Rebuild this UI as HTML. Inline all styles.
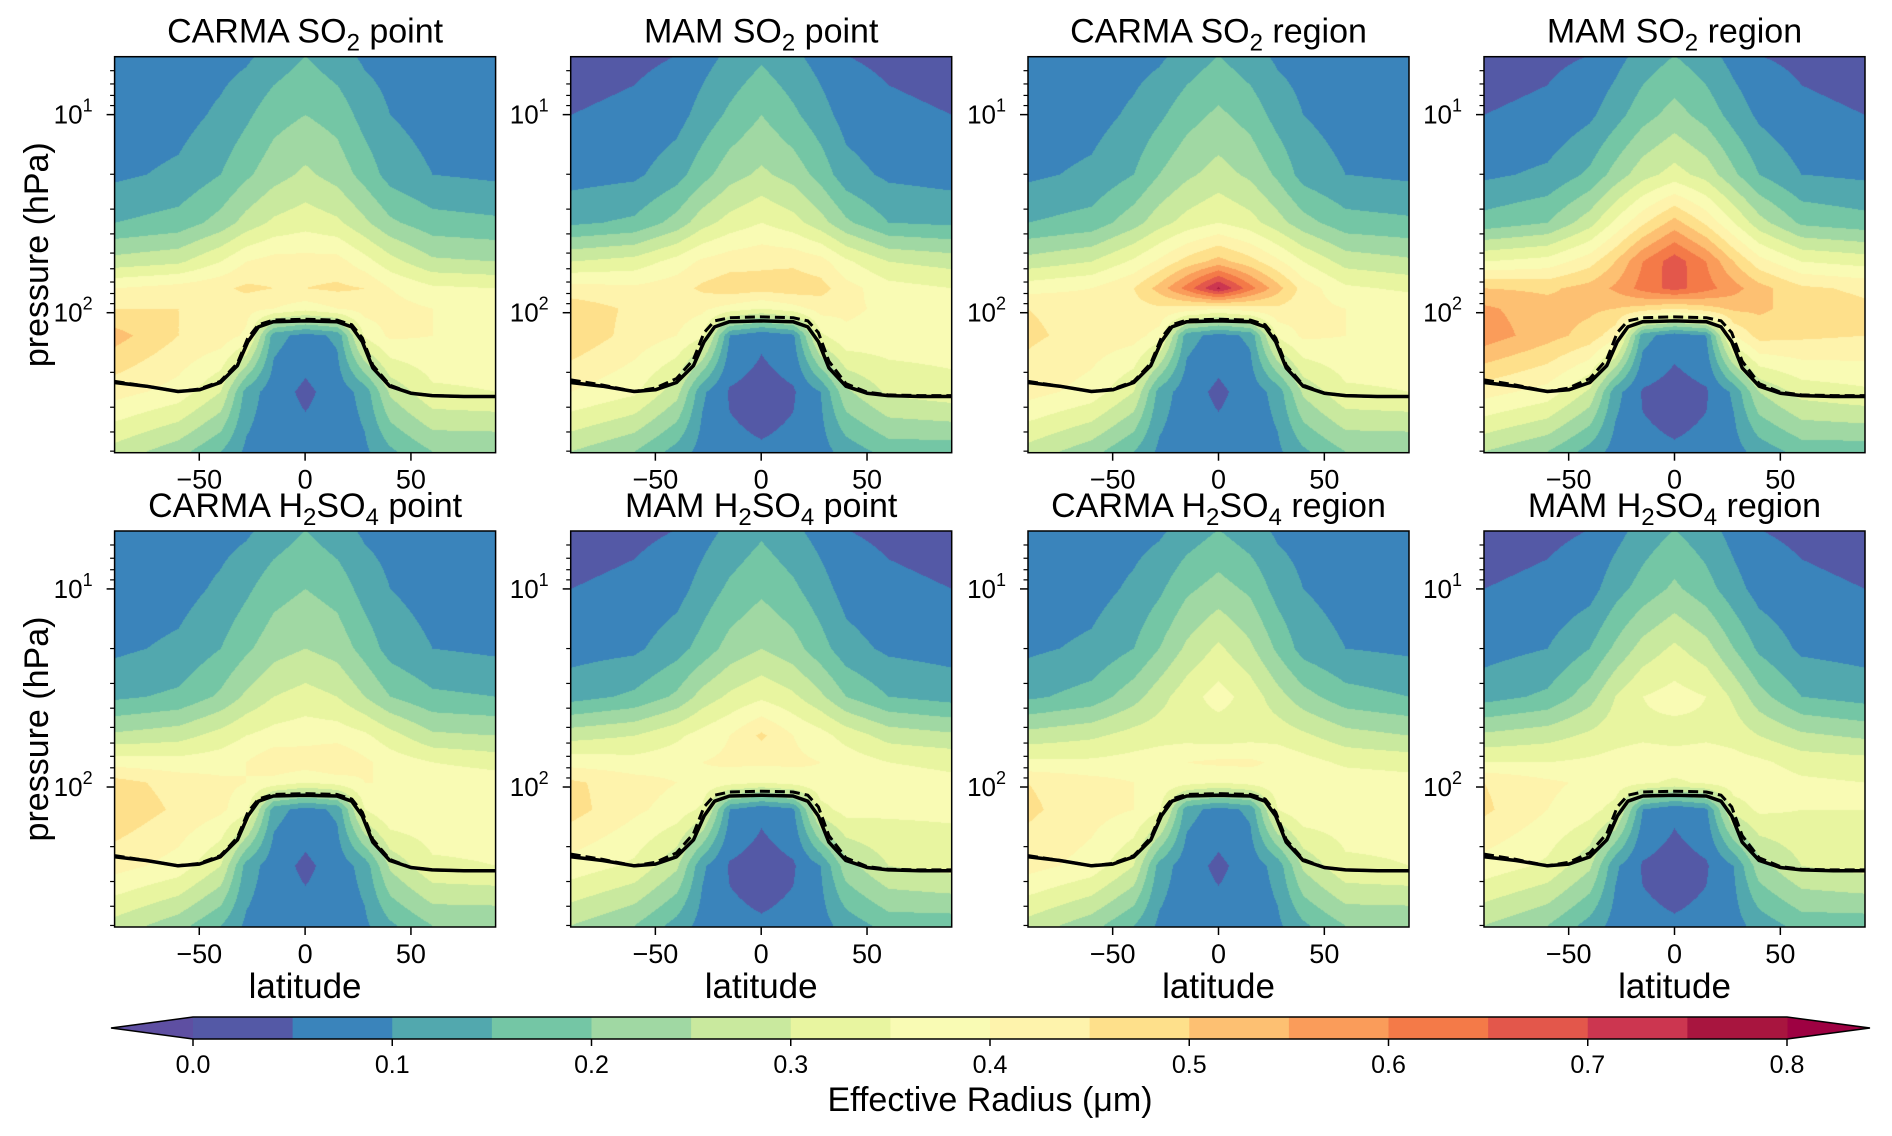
<!DOCTYPE html>
<html><head><meta charset="utf-8">
<style>
body{margin:0;background:#fff;width:1892px;height:1136px;overflow:hidden;position:relative;font-family:"Liberation Sans","DejaVu Sans",sans-serif;}
canvas{position:absolute;}
svg{position:absolute;left:0;top:0;}
</style></head>
<body>
<div id="canvases"></div>
<svg id="ov" width="1892" height="1136"></svg>
<script>
const lats=[-90,-60,-40,-28,-15,0,15,28,40,60,90];
const pres=[5,10,20,35,55,75,95,130,250,500];
const levels=[0,0.05,0.1,0.15,0.2,0.25,0.3,0.35,0.4,0.45,0.5,0.55,0.6,0.65,0.7,0.75,0.8];
const cbTicks=["0.0","0.1","0.2","0.3","0.4","0.5","0.6","0.7","0.8"];
const colors=["#5e4fa2","#5459a6","#3a84bb","#52a8ae","#74c6a5","#a0d8a3","#c9e99e","#e8f5a0","#f9fbb4","#fef3ac","#fee08b","#fdc072","#fa9c5a","#f47a48","#e3574b","#cc3650","#a8153f","#9e0142"];
const titles=[["CARMA SO","2"," point"],["MAM SO","2"," point"],["CARMA SO","2"," region"],["MAM SO","2"," region"],["CARMA H","2","SO","4"," point"],["MAM H","2","SO","4"," point"],["CARMA H","2","SO","4"," region"],["MAM H","2","SO","4"," region"]];
const carmaSO2point=[
[0.07,0.07,0.08,0.09,0.12,0.15,0.12,0.09,0.08,0.07,0.07],
[0.07,0.08,0.11,0.14,0.18,0.20,0.18,0.13,0.10,0.08,0.08],
[0.09,0.11,0.15,0.19,0.23,0.26,0.23,0.18,0.13,0.10,0.09],
[0.15,0.17,0.22,0.27,0.31,0.33,0.31,0.26,0.21,0.17,0.16],
[0.27,0.29,0.35,0.40,0.42,0.42,0.42,0.37,0.32,0.26,0.25],
[0.40,0.42,0.44,0.46,0.45,0.45,0.46,0.45,0.40,0.36,0.35],
[0.45,0.45,0.43,0.42,0.40,0.37,0.40,0.42,0.42,0.40,0.40],
[0.52,0.45,0.43,0.39,0.12,0.08,0.11,0.36,0.41,0.40,0.39],
[0.42,0.38,0.30,0.13,0.07,0.04,0.07,0.12,0.26,0.34,0.35],
[0.28,0.22,0.15,0.09,0.07,0.07,0.07,0.09,0.14,0.20,0.20]];
const mamSO2point=[
[0.03,0.04,0.05,0.08,0.11,0.14,0.11,0.08,0.05,0.04,0.03],
[0.05,0.06,0.08,0.12,0.16,0.20,0.16,0.12,0.08,0.06,0.05],
[0.08,0.09,0.13,0.18,0.23,0.26,0.23,0.18,0.12,0.09,0.08],
[0.14,0.16,0.22,0.28,0.32,0.35,0.32,0.27,0.21,0.15,0.14],
[0.30,0.32,0.37,0.41,0.43,0.44,0.44,0.42,0.36,0.30,0.28],
[0.42,0.41,0.43,0.46,0.48,0.47,0.48,0.47,0.42,0.37,0.35],
[0.48,0.44,0.42,0.41,0.38,0.35,0.38,0.42,0.41,0.39,0.38],
[0.49,0.43,0.40,0.36,0.10,0.06,0.09,0.34,0.39,0.38,0.38],
[0.40,0.36,0.27,0.11,0.045,0.03,0.045,0.10,0.24,0.31,0.33],
[0.25,0.20,0.13,0.08,0.06,0.055,0.06,0.08,0.12,0.17,0.17]];
const carmaSO2region=[
[0.07,0.07,0.08,0.09,0.12,0.15,0.12,0.09,0.08,0.07,0.07],
[0.07,0.08,0.11,0.14,0.18,0.21,0.18,0.13,0.10,0.08,0.08],
[0.09,0.11,0.15,0.20,0.24,0.27,0.24,0.19,0.13,0.10,0.09],
[0.15,0.17,0.23,0.28,0.32,0.35,0.32,0.27,0.22,0.17,0.16],
[0.27,0.30,0.36,0.41,0.47,0.52,0.47,0.41,0.35,0.28,0.26],
[0.38,0.40,0.45,0.52,0.62,0.76,0.62,0.52,0.43,0.36,0.34],
[0.45,0.43,0.43,0.44,0.43,0.40,0.43,0.44,0.42,0.40,0.39],
[0.46,0.43,0.42,0.38,0.12,0.08,0.11,0.36,0.41,0.40,0.39],
[0.42,0.38,0.30,0.13,0.07,0.04,0.07,0.12,0.26,0.34,0.35],
[0.28,0.22,0.15,0.09,0.07,0.07,0.07,0.09,0.14,0.20,0.20]];
const mamSO2region=[
[0.03,0.04,0.05,0.08,0.12,0.15,0.12,0.08,0.05,0.04,0.03],
[0.05,0.06,0.09,0.13,0.18,0.22,0.18,0.13,0.09,0.06,0.05],
[0.09,0.11,0.16,0.22,0.28,0.32,0.28,0.21,0.15,0.10,0.09],
[0.17,0.20,0.28,0.36,0.44,0.52,0.44,0.35,0.27,0.19,0.17],
[0.35,0.37,0.43,0.50,0.60,0.68,0.60,0.50,0.42,0.35,0.33],
[0.50,0.49,0.52,0.56,0.62,0.67,0.62,0.57,0.52,0.46,0.44],
[0.56,0.52,0.51,0.50,0.48,0.45,0.48,0.51,0.51,0.48,0.46],
[0.58,0.52,0.48,0.42,0.12,0.07,0.10,0.40,0.47,0.46,0.45],
[0.42,0.38,0.29,0.12,0.045,0.03,0.045,0.11,0.25,0.32,0.34],
[0.25,0.20,0.13,0.08,0.06,0.055,0.06,0.08,0.12,0.17,0.17]];
const carmaH2SO4point=[
[0.07,0.07,0.08,0.09,0.12,0.15,0.12,0.09,0.08,0.07,0.07],
[0.07,0.08,0.11,0.14,0.18,0.20,0.18,0.13,0.10,0.08,0.08],
[0.09,0.11,0.15,0.19,0.23,0.25,0.23,0.18,0.13,0.10,0.09],
[0.14,0.16,0.21,0.26,0.30,0.32,0.30,0.25,0.20,0.16,0.15],
[0.26,0.28,0.32,0.35,0.37,0.38,0.38,0.36,0.32,0.26,0.25],
[0.38,0.37,0.38,0.40,0.44,0.43,0.45,0.41,0.38,0.35,0.33],
[0.47,0.43,0.41,0.40,0.38,0.35,0.37,0.40,0.40,0.39,0.38],
[0.49,0.44,0.41,0.37,0.12,0.08,0.11,0.35,0.40,0.39,0.38],
[0.42,0.38,0.30,0.13,0.07,0.04,0.07,0.12,0.26,0.34,0.35],
[0.28,0.22,0.15,0.09,0.07,0.07,0.07,0.09,0.14,0.20,0.20]];
const mamH2SO4point=[
[0.03,0.04,0.05,0.08,0.11,0.14,0.11,0.08,0.05,0.04,0.03],
[0.05,0.06,0.08,0.12,0.16,0.19,0.16,0.12,0.08,0.06,0.05],
[0.08,0.09,0.13,0.17,0.22,0.25,0.22,0.17,0.12,0.09,0.08],
[0.13,0.16,0.21,0.27,0.31,0.34,0.31,0.26,0.20,0.15,0.13],
[0.28,0.30,0.34,0.37,0.40,0.46,0.40,0.37,0.33,0.28,0.26],
[0.38,0.37,0.38,0.40,0.41,0.41,0.41,0.40,0.38,0.35,0.34],
[0.46,0.42,0.40,0.39,0.37,0.35,0.37,0.39,0.39,0.37,0.36],
[0.47,0.41,0.38,0.34,0.10,0.06,0.09,0.33,0.37,0.36,0.36],
[0.38,0.34,0.26,0.11,0.045,0.03,0.045,0.10,0.23,0.30,0.32],
[0.25,0.20,0.13,0.08,0.06,0.055,0.06,0.08,0.12,0.17,0.17]];
const carmaH2SO4region=[
[0.07,0.07,0.08,0.09,0.12,0.15,0.12,0.09,0.08,0.07,0.07],
[0.07,0.08,0.11,0.14,0.19,0.22,0.19,0.13,0.10,0.08,0.08],
[0.09,0.11,0.15,0.20,0.26,0.31,0.26,0.19,0.13,0.10,0.09],
[0.14,0.17,0.23,0.28,0.33,0.37,0.33,0.27,0.22,0.17,0.15],
[0.27,0.29,0.32,0.33,0.33,0.32,0.33,0.33,0.31,0.27,0.25],
[0.36,0.36,0.37,0.38,0.40,0.41,0.41,0.39,0.37,0.34,0.33],
[0.45,0.42,0.40,0.39,0.37,0.35,0.37,0.39,0.39,0.38,0.37],
[0.46,0.42,0.40,0.36,0.12,0.08,0.11,0.35,0.39,0.38,0.37],
[0.42,0.38,0.30,0.13,0.07,0.04,0.07,0.12,0.26,0.34,0.35],
[0.28,0.22,0.15,0.09,0.07,0.07,0.07,0.09,0.14,0.20,0.20]];
const mamH2SO4region=[
[0.03,0.04,0.05,0.08,0.12,0.15,0.12,0.08,0.05,0.04,0.03],
[0.05,0.06,0.08,0.13,0.17,0.21,0.17,0.12,0.08,0.06,0.05],
[0.08,0.10,0.15,0.21,0.27,0.31,0.27,0.20,0.14,0.09,0.08],
[0.13,0.16,0.23,0.30,0.35,0.37,0.35,0.29,0.22,0.15,0.13],
[0.26,0.28,0.31,0.33,0.34,0.33,0.34,0.33,0.30,0.26,0.24],
[0.35,0.35,0.36,0.37,0.38,0.38,0.38,0.37,0.36,0.33,0.32],
[0.45,0.41,0.39,0.38,0.36,0.34,0.36,0.38,0.38,0.36,0.35],
[0.46,0.40,0.37,0.33,0.10,0.06,0.09,0.32,0.36,0.35,0.35],
[0.38,0.34,0.26,0.11,0.045,0.03,0.045,0.10,0.23,0.30,0.32],
[0.25,0.20,0.13,0.08,0.06,0.055,0.06,0.08,0.12,0.17,0.17]];
const tropLat=[-90,-75,-60,-50,-40,-32,-27,-22,-15,0,15,22,27,32,40,50,60,75,90];
const tropSolid=[225,235,250,245,225,185,140,118,111,110,111,118,140,190,235,255,262,265,265];
const tropDashCarma=[222,235,250,243,222,180,134,115,109,108,109,115,134,184,232,255,262,265,265];
const tropDashMam=[218,232,250,240,215,172,126,110,106,105,106,110,126,176,228,252,260,262,262];

const fields=[carmaSO2point,mamSO2point,carmaSO2region,mamSO2region,carmaH2SO4point,mamH2SO4point,carmaH2SO4region,mamH2SO4region];
const dashes=[tropDashCarma,tropDashMam,tropDashCarma,tropDashMam,tropDashCarma,tropDashMam,tropDashCarma,tropDashMam];
const names=["carma-so2-point","mam-so2-point","carma-so2-region","mam-so2-region","carma-h2so4-point","mam-h2so4-point","carma-h2so4-region","mam-h2so4-region"];

const colX=[114.6,570.7,1028,1484], PW=381, rowY=[56.7,531], PH=396;
const PTOP=5.1, PBOT=509;
const NS="http://www.w3.org/2000/svg";
const ov=document.getElementById('ov');
function mk(tag,attrs,parent){const e=document.createElementNS(NS,tag);for(const k in attrs)e.setAttribute(k,attrs[k]);(parent||ov).appendChild(e);return e;}
function xScale(lat,x0){return x0+(lat+90)/180*PW;}
function yScale(p,y0){return y0+(Math.log10(p)-Math.log10(PTOP))/(Math.log10(PBOT)-Math.log10(PTOP))*PH;}
function hex(c){return [parseInt(c.substr(1,2),16),parseInt(c.substr(3,2),16),parseInt(c.substr(5,2),16)];}
const rgb=colors.map(hex);
function colorIdx(v){if(v<levels[0])return 0;for(let i=1;i<levels.length;i++){if(v<levels[i])return i;}return colors.length-1;}
function seg(xs,x){let i=0;while(i<xs.length-2&&x>xs[i+1])i++;let t=(x-xs[i])/(xs[i+1]-xs[i]);t=Math.max(0,Math.min(1,t));return [i,t];}
const lp=pres.map(p=>Math.log10(p));
function val(F,lat,p){const [i,tx]=seg(lats,lat);const [j,ty]=seg(lp,Math.log10(p));
 const a=F[j][i]*(1-tx)+F[j][i+1]*tx, b=F[j+1][i]*(1-tx)+F[j+1][i+1]*tx; return a*(1-ty)+b*ty;}

const cdiv=document.getElementById('canvases');
for(let k=0;k<8;k++){
 const c=k%4,r=Math.floor(k/4),x0=colX[c],y0=rowY[r];
 const cv=document.createElement('canvas');
 
 
 const W=Math.round(PW),H=Math.round(PH);cv.width=W;cv.height=H;
 cv.style.left=x0+'px';cv.style.top=y0+'px';cv.style.width=PW+'px';cv.style.height=PH+'px';
 cdiv.appendChild(cv);
 const ctx=cv.getContext('2d');const img=ctx.createImageData(W,H);
 const F=fields[k];
 for(let py=0;py<H;py++){const p=Math.pow(10,Math.log10(PTOP)+(py+0.5)/H*(Math.log10(PBOT)-Math.log10(PTOP)));
  for(let px=0;px<W;px++){const lat=-90+(px+0.5)/W*180;const v=val(F,lat,p);const col=rgb[colorIdx(v)];const o=(py*W+px)*4;
   img.data[o]=col[0];img.data[o+1]=col[1];img.data[o+2]=col[2];img.data[o+3]=255;}}
 ctx.putImageData(img,0,0);

 const g=mk('g',{});
 
 
 let d='',d2='';
 tropLat.forEach((la,i)=>{d+=(i?'L':'M')+xScale(la,x0).toFixed(1)+' '+yScale(tropSolid[i],y0).toFixed(1);
   d2+=(i?'L':'M')+xScale(la,x0).toFixed(1)+' '+yScale(dashes[k][i],y0).toFixed(1);});
 const ld=mk('path',{d:d2,fill:'none',stroke:'#000','stroke-width':3,'stroke-dasharray':'10 5','stroke-linejoin':'round'},g);
 
 
 const ls=mk('path',{d:d,fill:'none',stroke:'#000','stroke-width':3.5,'stroke-linejoin':'round'},g);
 
 
 mk('rect',{x:x0,y:y0,width:PW,height:PH,fill:'none',stroke:'#000','stroke-width':1.5},g);
 for(const dec of [1,10,100]){for(let m=1;m<10;m++){const p=dec*m;if(p<PTOP||p>PBOT)continue;const y=yScale(p,y0);const maj=(m===1);
   mk('line',{x1:x0,x2:x0-(maj?8:4.5),y1:y,y2:y,stroke:'#000','stroke-width':maj?1.5:1.2},g);
   if(maj){const t=mk('text',{x:x0-22,y:y+9,'font-size':26,'text-anchor':'end'},g);t.textContent='10';
     const s=mk('tspan',{'font-size':18,dy:-12},t);s.textContent=(dec===10?'1':'2');}}}
 for(const la of [-50,0,50]){const x=xScale(la,x0);mk('line',{x1:x,x2:x,y1:y0+PH,y2:y0+PH+8,stroke:'#000','stroke-width':1.5},g);
   const t=mk('text',{x:x,y:y0+PH+36,'font-size':27,'text-anchor':'middle'},g);t.textContent=la<0?'\u2212'+(-la):''+la;}
 const tt=mk('text',{x:x0+PW/2,y:y0-14,'font-size':34,'text-anchor':'middle'},g);
 
 
 const parts=titles[k];
 for(let i=0;i<parts.length;i++){const sub=/^\d$/.test(parts[i]);
   const s=mk('tspan',sub?{'font-size':24,dy:8}:(i>0?{dy:-8}:{}),tt);s.textContent=parts[i];}
 if(c===0){const yl=mk('text',{x:0,y:0,'font-size':34,'text-anchor':'middle',transform:`translate(48 ${y0+PH/2}) rotate(-90)`},g);yl.textContent='pressure (hPa)';
   
   }
 if(r===1){const xl=mk('text',{x:x0+PW/2,y:998,'font-size':35,'text-anchor':'middle'},g);xl.textContent='latitude';
   
   }
}
const cb=mk('g',{});


const cbx0=193,cbx1=1787,cby0=1017,cby1=1039,nb=levels.length-1,bw=(cbx1-cbx0)/nb;
mk('polygon',{points:`${cbx0},${cby0} 111,${(cby0+cby1)/2} ${cbx0},${cby1}`,fill:colors[0]},cb);
mk('polygon',{points:`${cbx1},${cby0} 1870,${(cby0+cby1)/2} ${cbx1},${cby1}`,fill:colors[colors.length-1]},cb);
for(let i=0;i<nb;i++){const r=mk('rect',{x:cbx0+i*bw,y:cby0,width:bw+0.5,height:cby1-cby0,fill:colors[i+1]},cb);
 
 }
mk('polygon',{points:`111,${(cby0+cby1)/2} ${cbx0},${cby0} ${cbx1},${cby0} 1870,${(cby0+cby1)/2} ${cbx1},${cby1} ${cbx0},${cby1}`,fill:'none',stroke:'#000','stroke-width':1.5},cb);
cbTicks.forEach((lab,i)=>{const x=cbx0+i*(cbx1-cbx0)/(cbTicks.length-1);
 mk('line',{x1:x,x2:x,y1:cby1,y2:cby1+7,stroke:'#000','stroke-width':1.5},cb);
 const t=mk('text',{x:x,y:1073,'font-size':25,'text-anchor':'middle'},cb);t.textContent=lab;});
const cl=mk('text',{x:990,y:1111,'font-size':34,'text-anchor':'middle'},cb);cl.textContent='Effective Radius (\u03bcm)';


</script>
</body></html>
